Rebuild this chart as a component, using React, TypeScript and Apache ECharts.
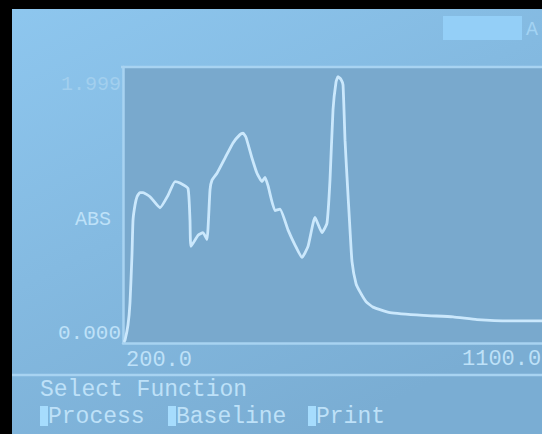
import React, { useEffect, useRef } from "react";
import * as echarts from "echarts";

const wavelengths = [
  202, 204.3, 210.7, 215, 219.3, 221.5, 225.8, 230.1, 236.5, 243, 258, 279.5, 296.7, 311.7, 322.4,
  339.6, 343.9, 346, 361.1, 371.8, 380.4, 386.9, 391.2, 401.9, 419.1, 436.3, 451.3, 457.8, 464.2,
  477.1, 487.8, 498.6, 505, 511.5, 526.5, 537.2, 554.4, 569.5, 584.5, 597.4, 612.4, 627.5, 638.2,
  644.6, 651.1, 657.5, 661.8, 668.3, 672.6, 676.9, 681.2, 687.6, 691.9, 700.5, 709.1, 722, 737,
  773.5, 844.4, 908.8, 960.4, 1037.7, 1100,
];
const absorbance = [
  0.007, 0.02, 0.13, 0.29, 0.64, 0.89, 1.0, 1.06, 1.09, 1.09, 1.06, 0.98, 1.07, 1.17, 1.16,
  1.12, 0.89, 0.7, 0.78, 0.8, 0.75, 1.11, 1.18, 1.23, 1.34, 1.45, 1.51, 1.52, 1.49,
  1.34, 1.23, 1.17, 1.2, 1.14, 0.96, 0.97, 0.82, 0.71, 0.62, 0.7, 0.91, 0.8, 0.87,
  1.18, 1.69, 1.89, 1.93, 1.91, 1.87, 1.47, 1.2, 0.82, 0.59, 0.43, 0.37, 0.3, 0.26,
  0.22, 0.2, 0.19, 0.17, 0.16, 0.16,
];
const yTickLabels = ["1.999", "ABS", "0.000"];
const xTickLabels = ["200.0", "1100.0"];
const statusTitle = "Select Function";
const menuItems = ["Process", "Baseline", "Print"];
const modeLabel = "A";

const FONT = "'Liberation Mono', 'DejaVu Sans Mono', monospace";
const TXT = "#bee1f8";

export default function App() {
  const ref = useRef<HTMLDivElement>(null);
  useEffect(() => {
    if (!ref.current) return;
    const chart = echarts.init(ref.current, null, { renderer: "svg" });
    const data = wavelengths.map((w, i) => [w, absorbance[i]]);
    const menuX = [40, 168, 308];
    const option: any = {
      animation: false,
      backgroundColor: {
        type: "linear", x: 0, y: 0, x2: 0.6, y2: 1,
        colorStops: [
          { offset: 0, color: "#8ec7ef" },
          { offset: 1, color: "#7aadd3" },
        ],
      },
      grid: {
        left: 123, top: 67, right: -2, bottom: 434 - 343,
        show: true, backgroundColor: "#79a9cd", borderWidth: 0,
      },
      xAxis: {
        type: "value", min: 200, max: 1100,
        axisLine: { show: true, lineStyle: { color: "#a8d3f1", width: 2.5 } },
        axisTick: { show: false }, axisLabel: { show: false }, splitLine: { show: false },
      },
      yAxis: {
        type: "value", min: 0, max: 2,
        axisLine: { show: true, lineStyle: { color: "#a8d3f1", width: 2.5 } },
        axisTick: { show: false }, axisLabel: { show: false }, splitLine: { show: false },
      },
      series: [
        {
          type: "line", data, showSymbol: false, smooth: 0.15,
          lineStyle: { color: "#cbe8fc", width: 2.8 },
        },
      ],
      graphic: [
        { type: "rect", shape: { x: 0, y: 0, width: 542, height: 9 }, style: { fill: "#000" }, z: 100 },
        { type: "rect", shape: { x: 0, y: 0, width: 12, height: 434 }, style: { fill: "#000" }, z: 100 },
        { type: "line", shape: { x1: 121, y1: 67, x2: 542, y2: 67 }, style: { stroke: "#a8d3f1", lineWidth: 2.5 }, z: 50 },
        { type: "line", shape: { x1: 12, y1: 375, x2: 542, y2: 375 }, style: { stroke: "#a8d3f1", lineWidth: 2.5 }, z: 50 },
        { type: "rect", shape: { x: 443, y: 16, width: 79, height: 24 }, style: { fill: "#94cff7" }, z: 50 },
        { type: "text", x: 526, y: 29, style: { text: modeLabel, font: `20px ${FONT}`, fill: "#a3d3f3", verticalAlign: "middle" }, z: 50 },
        { type: "text", x: 121, y: 84, style: { text: yTickLabels[0], font: `20px ${FONT}`, fill: "#a2cfee", align: "right", verticalAlign: "middle" }, z: 50 },
        { type: "text", x: 111, y: 219, style: { text: yTickLabels[1], font: `20px ${FONT}`, fill: TXT, align: "right", verticalAlign: "middle" }, z: 50 },
        { type: "text", x: 121, y: 333, style: { text: yTickLabels[2], font: `21px ${FONT}`, fill: TXT, align: "right", verticalAlign: "middle" }, z: 50 },
        { type: "text", x: 126, y: 360, style: { text: xTickLabels[0], font: `22px ${FONT}`, fill: TXT, verticalAlign: "middle" }, z: 50 },
        { type: "text", x: 462, y: 359, style: { text: xTickLabels[1], font: `22px ${FONT}`, fill: TXT, verticalAlign: "middle" }, z: 50 },
        { type: "text", x: 40, y: 390, style: { text: statusTitle, font: `23px ${FONT}`, fill: TXT, verticalAlign: "middle" }, z: 50 },
        ...menuItems.flatMap((m, i) => [
          { type: "rect", shape: { x: menuX[i], y: 406, width: 8, height: 20 }, style: { fill: "#a6dcfd" }, z: 50 },
          { type: "text", x: menuX[i] + 8, y: 417, style: { text: m, font: `23px ${FONT}`, fill: TXT, verticalAlign: "middle" }, z: 50 },
        ]),
      ],
    };
    chart.setOption(option);
    return () => chart.dispose();
  }, []);
  return (
    <div style={{ position: "fixed", left: 0, top: 0, width: 542, height: 434, background: "#000" }}>
      <div ref={ref} style={{ width: 542, height: 434 }} />
    </div>
  );
}
